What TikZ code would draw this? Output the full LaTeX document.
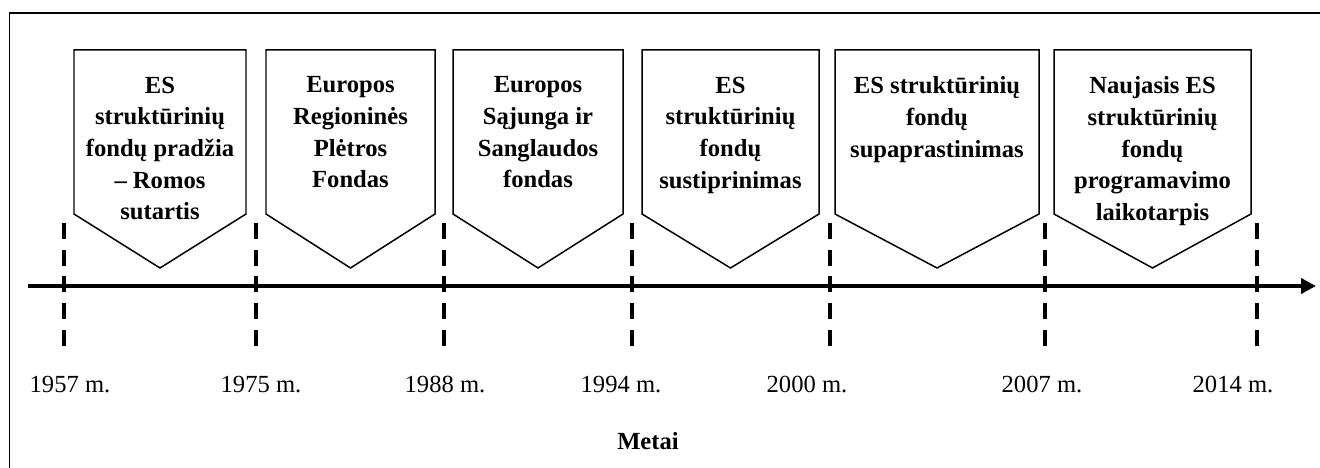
\documentclass[tikz,border=0pt]{standalone}
\usepackage{fontspec}
\setmainfont{Liberation Serif}
\usepackage{tikz}
\usetikzlibrary{arrows.meta,positioning}

\begin{document}
\begin{tikzpicture}[>=Latex,font=\fontsize{14}{18}\selectfont]

\tikzset{
period/.style={
    draw=black,
    line width=0.85pt,
    fill=white
},
periodtext/.style={
    anchor=north,
    align=center,
    inner sep=0pt,
    font=\fontsize{14}{18}\selectfont\bfseries
},
yearmark/.style={line width=2.2pt,dash pattern=on 9pt off 6.2pt},
yearlabel/.style={anchor=base,inner sep=0pt},
axis/.style={-{Triangle[length=0.3cm,width=0.3cm]},line width=2.3pt}
}

\clip (0,0) rectangle (26.4,9.36);
\draw[line width=0.75pt] (0.19,-0.2) rectangle (26.6,9.10);

% laikotarpiai
\foreach \l/\r/\n/\txt in {
    1.48/4.92/romos/{ES\\struktūrinių\\fondų pradžia\\– Romos\\sutartis},
    5.32/8.70/erpf/{Europos\\Regioninės\\Plėtros\\Fondas},
    9.06/12.46/sanglauda/{Europos\\Sąjunga ir\\Sanglaudos\\fondas},
    12.84/16.38/stiprinimas/{ES\\struktūrinių\\fondų\\sustiprinimas},
    16.70/20.78/supaprastinimas/{ES struktūrinių\\fondų\\supaprastinimas},
    21.08/25.02/naujasis/{Naujasis ES\\struktūrinių\\fondų\\programavimo\\laikotarpis}}
{
    \draw[period] (\l,8.36) -- (\r,8.36) -- (\r,5.08)
        -- ({(\l+\r)/2},4.00) -- (\l,5.08) -- cycle;
    \node[periodtext] (\n) at ({(\l+\r)/2},7.83) {\txt};
}

% laiko ašis
\coordinate (axisstart) at (0.56,3.64);
\coordinate (axisend) at (26.32,3.64);
\draw[axis] (axisstart) -- (axisend);

\foreach \x/\lx/\yr in {1.28/1.40/1957,5.12/5.22/1975,8.88/8.90/1988,
    12.64/12.42/1994,16.60/16.14/2000,20.90/20.84/2007,25.14/24.66/2014}
{
    \draw[yearmark] (\x,4.90) -- (\x,2.38);
    \node[yearlabel] (y\yr) at (\lx,1.50) {\yr{} m.};
}

\node[yearlabel,font=\fontsize{14}{18}\selectfont\bfseries] (metai) at (12.96,0.36) {Metai};

\end{tikzpicture}
\end{document}
